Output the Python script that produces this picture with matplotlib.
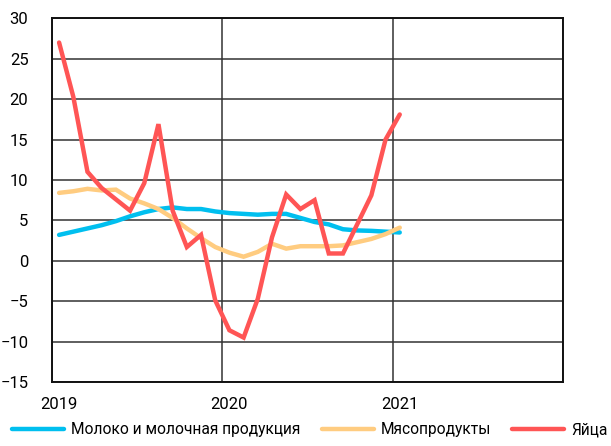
import matplotlib
matplotlib.use("Agg")
import matplotlib.pyplot as plt
import numpy as np

# Годовой темп роста цен, % (янв 2019 - янв 2021, помесячно)
years = [2019, 2020, 2021]
milk = [3.2, 3.6, 4.0, 4.4, 4.9, 5.5, 6.0, 6.4, 6.6, 6.4, 6.4, 6.1,
        5.9, 5.8, 5.7, 5.8, 5.8, 5.3, 4.8, 4.5, 3.9, 3.75, 3.7, 3.6, 3.5]
meat = [8.4, 8.6, 8.9, 8.7, 8.8, 7.7, 7.1, 6.4, 5.3, 4.0, 2.8, 1.7,
        1.0, 0.5, 1.1, 2.1, 1.5, 1.8, 1.8, 1.8, 1.9, 2.3, 2.7, 3.3, 4.1]
eggs = [27.0, 20.3, 11.0, 9.0, 7.6, 6.2, 9.6, 16.9, 6.2, 1.7, 3.2, -4.9,
        -8.6, -9.5, -4.7, 2.9, 8.2, 6.4, 7.5, 0.9, 0.9, 4.5, 8.1, 15.0, 18.1]
labels = ["Молоко и молочная продукция", "Мясопродукты", "Яйца"]
colors = ["#00BFEF", "#FFCC80", "#FF5555"]

plt.rcParams["font.family"] = ["Roboto", "DejaVu Sans"]

# точки ставим в середину месяца
x = 2019 + (np.arange(len(milk)) + 0.5) / 12

fig = plt.figure(figsize=(6.11, 4.46), dpi=100)
ax = fig.add_axes([0.0851, 0.1435, 0.8363, 0.8155])

for series, label, color in zip([milk, meat, eggs], labels, colors):
    ax.plot(x, series, color=color, linewidth=3.2, label=label,
            solid_capstyle="round", solid_joinstyle="miter")

ax.set_xlim(2019, 2022)
ax.set_ylim(-15, 30)
ax.set_yticks(np.arange(-15, 31, 5))
ax.set_xticks([2019, 2020, 2021, 2022])
ax.set_xticklabels([])
ax.set_xticks([y + 0.5 / 12 for y in years], minor=True)
ax.set_xticklabels([str(y) for y in years], minor=True)

ax.grid(True, which="major", color="#333333", linewidth=1.1)
ax.set_axisbelow(True)
ax.tick_params(axis="both", which="both", length=0, labelsize=12)
ax.tick_params(axis="y", pad=17)
ax.tick_params(axis="x", which="minor", pad=11)
for spine in ax.spines.values():
    spine.set_color("#111111")
    spine.set_linewidth(1.4)

fig.legend(loc="lower center", bbox_to_anchor=(0.507, -0.012), ncol=3,
           frameon=False, fontsize=11.2, handlelength=3.35, handletextpad=0.45,
           columnspacing=1.35)

fig.savefig("out.png", dpi=100)
